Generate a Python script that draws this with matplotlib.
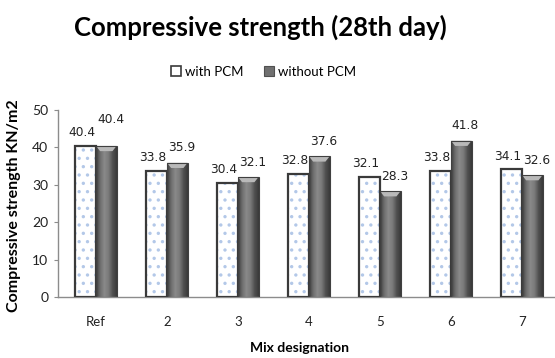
import numpy as np
import matplotlib.pyplot as plt
from matplotlib.patches import Patch, Polygon
from matplotlib.colors import LinearSegmentedColormap

plt.rcParams['font.family'] = ['Lato', 'DejaVu Sans']

# 28 day compressive strength per mix
mixes = ['Ref', '2', '3', '4', '5', '6', '7']
with_pcm = [40.4, 33.8, 30.4, 32.8, 32.1, 33.8, 34.1]
without_pcm = [40.4, 35.9, 32.1, 37.6, 28.3, 41.8, 32.6]
yticks = [0, 10, 20, 30, 40, 50]

fig = plt.figure(figsize=(5.55, 3.58), dpi=100)
ax = fig.add_axes([58 / 555, 1 - 297 / 358, 497 / 555, 187 / 358])

x = np.arange(len(mixes))
w = 0.29
edge = '#3a3a3a'

# with PCM: white bars with light blue dots
plt.rcParams['hatch.linewidth'] = 1.2
ax.bar(x - w / 2, with_pcm, w, color='white', edgecolor='#b3c8e8', hatch='..', linewidth=0, zorder=2)
ax.bar(x - w / 2, with_pcm, w, fill=False, edgecolor=edge, linewidth=1.6, zorder=3)

# without PCM: shaded cylinder-like bars
bars2 = ax.bar(x + w / 2, without_pcm, w, facecolor='none', edgecolor='#404040', linewidth=0.8, zorder=3)
cmap = LinearSegmentedColormap.from_list('cyl', ['#3e3e3e', '#6e6e6e', '#8a8a8a', '#7a7a7a', '#505050', '#3a3a3a'])
grad = np.linspace(0, 1, 64).reshape(1, -1)
for b in bars2:
    x0, bw, bh = b.get_x(), b.get_width(), b.get_height()
    im = ax.imshow(grad, cmap=cmap, aspect='auto', extent=(x0, x0 + bw, 0, bh), zorder=2)
    im.set_clip_path(b)
    c = 1.4
    cap = Polygon([(x0, bh), (x0 + bw, bh), (x0 + 0.8 * bw, bh - c), (x0 + 0.2 * bw, bh - c)],
                  closed=True, facecolor='#b9b9b9', edgecolor='none', zorder=2.5)
    ax.add_patch(cap)

# value labels, nudged apart so neighbours don't collide
for i in range(len(mixes)):
    ax.annotate(f'{with_pcm[i]:.1f}', (x[i] - w / 2, with_pcm[i]), xytext=(-3, 5),
                textcoords='offset points', ha='center', va='bottom',
                fontsize=8.8, family='DejaVu Sans', color='#222222')
    lift = 14 if abs(with_pcm[i] - without_pcm[i]) < 1 else 6
    ax.annotate(f'{without_pcm[i]:.1f}', (x[i] + w / 2, without_pcm[i]), xytext=(3, lift),
                textcoords='offset points', ha='center', va='bottom',
                fontsize=8.8, family='DejaVu Sans', color='#222222')

ax.set_xlim(-0.535, 6.465)
ax.set_ylim(0, 50)
ax.set_yticks(yticks)
ax.set_xticks(x)
ax.set_xticklabels(mixes)
ax.tick_params(axis='x', length=0, pad=14, labelsize=9.5, colors='#222222')
ax.tick_params(axis='y', length=3, width=0.8, color='#8c8c8c', pad=4, labelsize=10, labelcolor='#222222')
for s in ['top', 'right']:
    ax.spines[s].set_visible(False)
for s in ['left', 'bottom']:
    ax.spines[s].set_color('#8c8c8c')
    ax.spines[s].set_linewidth(1.0)

fig.text(0.47, 0.925, 'Compressive strength (28th day)', ha='center', va='center',
         fontsize=18.5, fontweight='bold')
fig.text(14 / 555, 0.425, 'Compressive strength KN/m2', rotation=90, ha='center', va='center',
         fontsize=11.5, fontweight='bold')
fig.text(0.54, 1 - 348 / 358, 'Mix designation', ha='center', va='center',
         fontsize=10, fontweight='bold')

handles = [Patch(facecolor='white', edgecolor=edge, linewidth=1.2, label='with PCM'),
           Patch(facecolor='#707070', edgecolor='#505050', linewidth=0.8, label='without PCM')]
fig.legend(handles=handles, loc='center', bbox_to_anchor=(0.475, 1 - 72 / 358), ncol=2,
           frameon=False, fontsize=9.5, handlelength=0.8, handleheight=0.8,
           handletextpad=0.3, columnspacing=1.5)

fig.savefig('out.png', dpi=100)
